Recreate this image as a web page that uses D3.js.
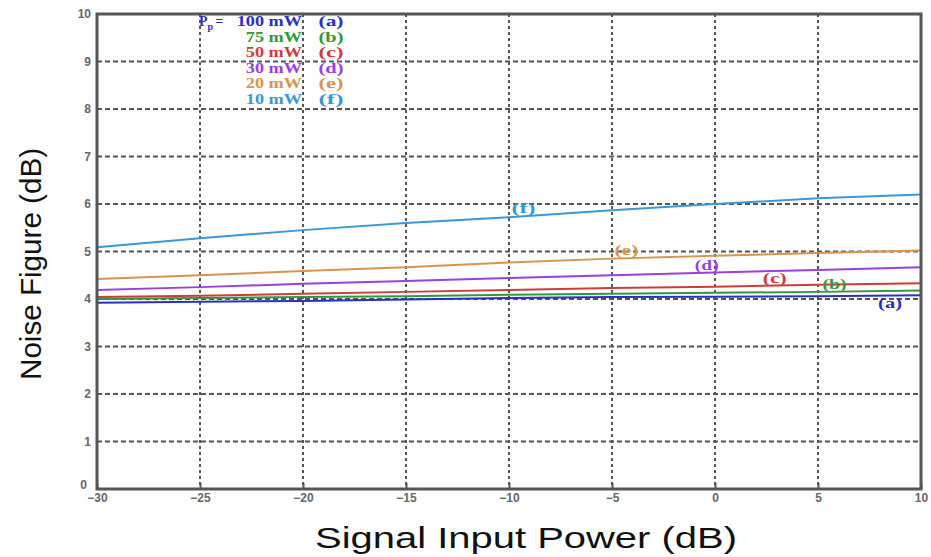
<!DOCTYPE html>
<html><head><meta charset="utf-8">
<script src="https://cdn.jsdelivr.net/npm/d3@7"></script>
<style>html,body{margin:0;padding:0;background:#fff;}</style>
</head><body>
<svg id="chart" width="931" height="557"></svg>
<script>
const xValues = [-30, -25, -20, -15, -10, -5, 0, 5, 10];
const seriesA = [3.92, 3.94, 3.96, 3.99, 4.02, 4.04, 4.05, 4.06, 4.08];
const seriesB = [4.00, 4.02, 4.04, 4.06, 4.09, 4.11, 4.13, 4.15, 4.18];
const seriesC = [4.04, 4.07, 4.11, 4.15, 4.19, 4.23, 4.26, 4.30, 4.33];
const seriesD = [4.19, 4.25, 4.32, 4.38, 4.44, 4.50, 4.56, 4.61, 4.67];
const seriesE = [4.42, 4.50, 4.59, 4.67, 4.77, 4.85, 4.91, 4.97, 5.02];
const seriesF = [5.09, 5.28, 5.45, 5.60, 5.72, 5.87, 6.00, 6.12, 6.20];
const seriesNames = ["(a)", "(b)", "(c)", "(d)", "(e)", "(f)"];
const pumpPowers = ["100 mW", "75 mW", "50 mW", "30 mW", "20 mW", "10 mW"];
const labelX = [8.5, 5.8, 2.9, -0.4, -4.3, -9.3];
const xTicks = [-30, -25, -20, -15, -10, -5, 0, 5, 10];
const yTicks = [0, 1, 2, 3, 4, 5, 6, 7, 8, 9, 10];
const colors = ["#2a2fc8", "#2f9a3a", "#d23a3a", "#9a3fe0", "#d8944e", "#3a98d8"];
const allSeries = [seriesA, seriesB, seriesC, seriesD, seriesE, seriesF];

const svg = d3.select("#chart");
const L = 97, R = 921, T = 14, B = 489;
const x = d3.scaleLinear().domain([-30, 10]).range([L, R]);
const y = d3.scaleLinear().domain([0, 10]).range([B, T]);

// grid
const grid = svg.append("g");
grid.selectAll(".gx").data(xTicks.slice(1, -1)).enter().append("line")
  .attr("x1", d => x(d)).attr("x2", d => x(d)).attr("y1", T).attr("y2", B)
  .attr("stroke", "#555").attr("stroke-width", 2).attr("stroke-dasharray", "3,3");
grid.selectAll(".gy").data(yTicks.slice(1, -1)).enter().append("line")
  .attr("y1", d => y(d)).attr("y2", d => y(d)).attr("x1", L).attr("x2", R)
  .attr("stroke", "#555").attr("stroke-width", 2).attr("stroke-dasharray", "5,3");

// lines
const line = d3.line().x((d, i) => x(xValues[i])).y(d => y(d));
allSeries.forEach((s, k) => {
  svg.append("path").datum(s).attr("d", line).attr("fill", "none")
    .attr("stroke", colors[k]).attr("stroke-width", 2);
});

// in-plot labels
allSeries.forEach((s, k) => {
  const xv = labelX[k];
  const yv = d3.scaleLinear().domain(xValues).range(s)(xv);
  const off = k === 0 ? 13 : -3;
  svg.append("text").attr("x", x(xv)).attr("y", y(yv) + off)
    .attr("text-anchor", "middle").attr("font-family", "Liberation Serif, serif")
    .attr("font-weight", "bold").attr("font-size", 14).attr("fill", colors[k])
    .attr("textLength", 24).attr("lengthAdjust", "spacingAndGlyphs")
    .text(seriesNames[k]);
});

// frame
svg.append("rect").attr("x", L).attr("y", T).attr("width", R - L).attr("height", B - T)
  .attr("fill", "none").attr("stroke", "#555").attr("stroke-width", 3);

// axes
const xAxis = d3.axisBottom(x).tickValues(xTicks).tickSize(-6).tickPadding(4);
const gx = svg.append("g").attr("transform", `translate(0,${B})`).call(xAxis);
gx.select(".domain").remove();
gx.selectAll("line").attr("stroke", "#555").attr("stroke-width", 2);
gx.selectAll("text").attr("font-family", "Liberation Sans, Arial, sans-serif")
  .attr("font-size", 12).attr("font-weight", "bold").attr("fill", "#666");

const yAxis = d3.axisLeft(y).tickValues(yTicks).tickSize(0).tickPadding(6);
const gy = svg.append("g").attr("transform", `translate(${L},0)`).call(yAxis);
gy.select(".domain").remove();
gy.selectAll("text").attr("font-family", "Liberation Sans, Arial, sans-serif")
  .attr("font-size", 12).attr("font-weight", "bold").attr("fill", "#666");
gy.selectAll(".tick").filter(d => d === 0).select("text").attr("dx", -4).attr("dy", "-0.05em");

// axis titles
svg.append("text").attr("x", 526).attr("y", 548).attr("text-anchor", "middle")
  .attr("font-family", "Liberation Sans, Arial, sans-serif").attr("font-size", 29)
  .attr("fill", "#111").attr("textLength", 422).attr("lengthAdjust", "spacingAndGlyphs")
  .text("Signal Input Power (dB)");
svg.append("text").attr("transform", "translate(41,264) rotate(-90)").attr("text-anchor", "middle")
  .attr("font-family", "Liberation Sans, Arial, sans-serif").attr("font-size", 29)
  .attr("fill", "#111").attr("textLength", 232).attr("lengthAdjust", "spacingAndGlyphs")
  .text("Noise Figure (dB)");

// legend
const lg = svg.append("g").attr("font-family", "Liberation Serif, serif")
  .attr("font-weight", "bold").attr("font-size", 14);
const pp = lg.append("text").attr("x", 199).attr("y", 26).attr("fill", colors[0]);
pp.append("tspan").text("P");
pp.append("tspan").attr("font-size", 10).attr("dy", 4).text("p");
pp.append("tspan").attr("dy", -4).attr("dx", 2).text("=");
pumpPowers.forEach((p, k) => {
  const yy = 26 + k * 15.6;
  const t = lg.append("text").attr("x", 302).attr("y", yy).attr("text-anchor", "end")
    .attr("fill", colors[k]).text(p);
  const w = t.node().getComputedTextLength();
  t.attr("textLength", w * 1.3).attr("lengthAdjust", "spacingAndGlyphs");
  lg.append("text").attr("x", 331).attr("y", yy).attr("text-anchor", "middle")
    .attr("fill", colors[k]).attr("textLength", 25).attr("lengthAdjust", "spacingAndGlyphs")
    .text(seriesNames[k]);
});
</script>
</body></html>
